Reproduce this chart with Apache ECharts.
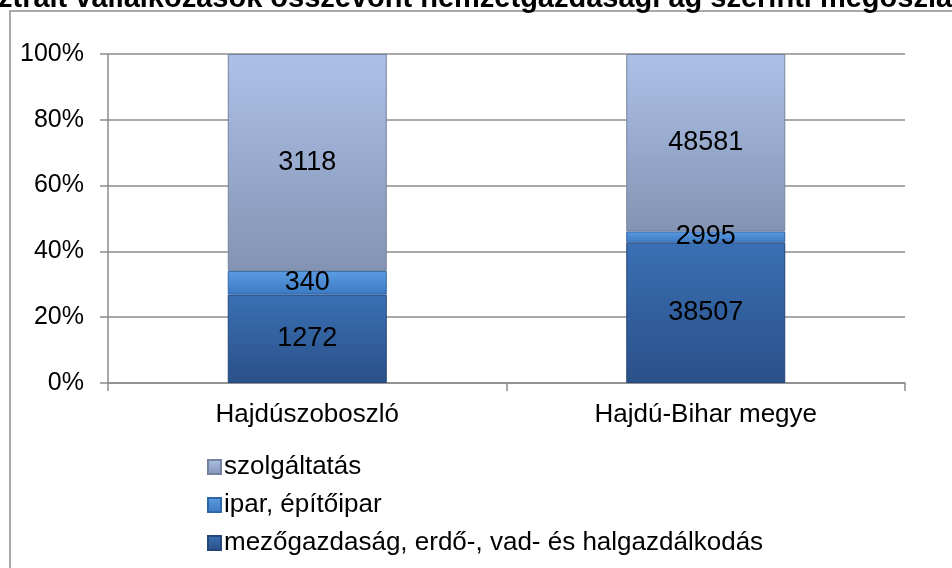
<!DOCTYPE html>
<html>
<head>
<meta charset="utf-8">
<script src="https://cdn.jsdelivr.net/npm/echarts@6/dist/echarts.min.js"></script>
<style>
  html, body { margin: 0; padding: 0; background: #fff; }
  #chart { width: 952px; height: 568px; }
</style>
</head>
<body>
<div id="chart"></div>
<script>
var categories = ['Hajdúszoboszló', 'Hajdú-Bihar megye'];
var mezogazdasag = [1272, 38507];
var ipar = [340, 2995];
var szolgaltatas = [3118, 48581];
var yTicks = [0, 20, 40, 60, 80, 100];

var totals = categories.map((c, i) => mezogazdasag[i] + ipar[i] + szolgaltatas[i]);
var toShare = arr => arr.map((v, i) => ({ value: v / totals[i] * 100, raw: v }));

var grad = (top, bottom) => new echarts.graphic.LinearGradient(0, 0, 0, 1, [
  { offset: 0, color: top }, { offset: 1, color: bottom }
]);

var makeSeries = (name, values, top, bottom, border) => ({
  name,
  type: 'bar',
  stack: 'total',
  barWidth: 159,
  data: toShare(values),
  itemStyle: { color: grad(top, bottom), borderColor: border, borderWidth: 1 },
  label: {
    show: true,
    position: 'inside',
    color: '#000',
    fontSize: 27,
    fontFamily: 'Liberation Sans, Arial, sans-serif',
    formatter: p => p.data.raw
  }
});

var chart = echarts.init(document.getElementById('chart'));
chart.setOption({
  animation: false,
  textStyle: { fontFamily: 'Liberation Sans, Arial, sans-serif' },
  title: {
    text: 'Regisztrált vállalkozások összevont nemzetgazdasági ág szerinti megoszlása',
    left: -81,
    top: -16,
    padding: 0,
    textStyle: { fontSize: 29, fontWeight: 'bold', color: '#000' }
  },
  graphic: [{
    type: 'rect',
    shape: { x: 10, y: 11, width: 960, height: 580 },
    style: { fill: 'none', stroke: '#8c8c8c', lineWidth: 1.5 },
    z: -1
  }],
  grid: { left: 108, right: 47, top: 54, bottom: 185 },
  legend: {
    orient: 'vertical',
    left: 202,
    top: 449,
    itemWidth: 13,
    itemHeight: 14,
    itemGap: 12,
    icon: 'rect',
    data: ['szolgáltatás', 'ipar, építőipar', 'mezőgazdaság, erdő-, vad- és halgazdálkodás'],
    textStyle: { fontSize: 26, color: '#000', padding: [0, 0, 0, -2] }
  },
  xAxis: {
    type: 'category',
    data: categories,
    axisLine: { lineStyle: { color: '#8c8c8c', width: 1.5 } },
    axisTick: { show: true, length: 8, alignWithLabel: false, lineStyle: { color: '#8c8c8c', width: 1.5 } },
    axisLabel: { color: '#000', fontSize: 26, margin: 19 }
  },
  yAxis: {
    type: 'value',
    min: 0,
    max: 100,
    interval: 20,
    axisLine: { show: true, lineStyle: { color: '#8c8c8c', width: 1.5 } },
    axisTick: { show: true, length: 8, lineStyle: { color: '#8c8c8c', width: 1.5 } },
    splitLine: { lineStyle: { color: '#8c8c8c', width: 1.5 } },
    axisLabel: {
      color: '#000',
      fontSize: 25,
      margin: 24,
      formatter: v => yTicks.indexOf(v) >= 0 ? v + '%' : ''
    }
  },
  series: [
    makeSeries('mezőgazdaság, erdő-, vad- és halgazdálkodás', mezogazdasag, '#3a70b4', '#2a5088', '#24467a'),
    makeSeries('ipar, építőipar', ipar, '#5c9ce2', '#3b7ac2', '#2f66a6'),
    makeSeries('szolgáltatás', szolgaltatas, '#adc1e7', '#8393b3', '#76839f')
  ]
});
</script>
</body>
</html>
